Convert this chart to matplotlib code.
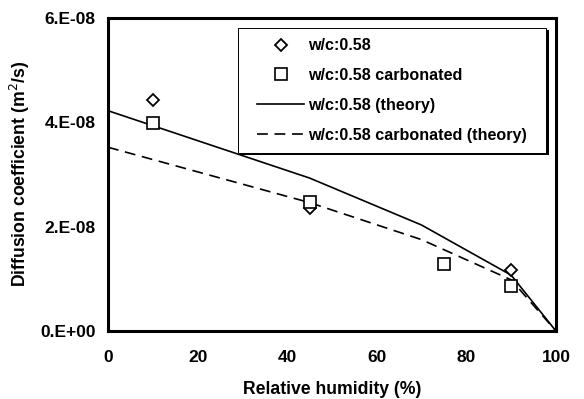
import matplotlib
matplotlib.use("Agg")
import matplotlib.pyplot as plt
from matplotlib.patches import Rectangle
import matplotlib.transforms as mtransforms

plt.rcParams['font.family'] = ['Liberation Sans', 'DejaVu Sans']

# measured data
rh_meas = [10, 45, 90]
d_meas = [4.43e-8, 2.36e-8, 1.17e-8]
rh_carb = [10, 45, 75, 90]
d_carb = [3.99e-8, 2.47e-8, 1.28e-8, 0.86e-8]

# theory curves
rh_theory = [0, 45, 70, 90, 100]
d_theory = [4.22e-8, 2.93e-8, 2.03e-8, 1.07e-8, 0.0]
d_theory_carb = [3.52e-8, 2.46e-8, 1.75e-8, 0.98e-8, 0.0]

xticks = [0, 20, 40, 60, 80, 100]
yticks = [0, 2e-8, 4e-8, 6e-8]
ytick_labels = ['0.E+00', '2.E-08', '4.E-08', '6.E-08']

fig = plt.figure(figsize=(5.84, 3.99), dpi=100)
ax = fig.add_axes([0.185, 0.1704, 0.767, 0.785])

ax.plot(rh_meas, d_meas, linestyle='none', marker='D', ms=6.3, mfc='white',
        mec='black', mew=1.3, label='w/c:0.58', zorder=4)
ax.plot(rh_carb, d_carb, linestyle='none', marker='s', ms=8.2, mfc='white',
        mec='black', mew=1.2, label='w/c:0.58 carbonated', zorder=4)
ax.plot(rh_theory, d_theory, color='black', lw=1.2, label='w/c:0.58 (theory)', zorder=3)
ax.plot(rh_theory, d_theory_carb, color='black', lw=1.2, dashes=(6.5, 4),
        label='w/c:0.58 carbonated (theory)', zorder=3)

ax.set_xlim(0, 100)
ax.set_ylim(0, 6e-8)
ax.set_xticks(xticks)
ax.set_xticklabels([str(t) for t in xticks])
ax.set_yticks(yticks)
ax.set_yticklabels(ytick_labels)
ax.tick_params(axis='both', length=0, labelsize=12.5)
ax.tick_params(axis='x', pad=14)
ax.tick_params(axis='y', pad=9)
for lab in ax.get_xticklabels() + ax.get_yticklabels():
    lab.set_fontweight('bold')
for s in ax.spines.values():
    s.set_linewidth(2.2)

ax.set_xlabel('Relative humidity (%)', fontsize=12.7, fontweight='bold', labelpad=11)
ax.set_ylabel('Diffusion coefficient (m$^2$/s)', fontsize=12.7, fontweight='bold', labelpad=6)

# legend box with Excel-style shadow
bx0, by0, bw, bh = 0.290, 0.569, 0.688, 0.399
shadow_tr = mtransforms.offset_copy(ax.transAxes, fig=fig, x=2.5, y=-2.5, units='dots')
ax.add_patch(Rectangle((bx0, by0), bw, bh, transform=shadow_tr, facecolor='black',
                       edgecolor='none', zorder=5, clip_on=False))
ax.add_patch(Rectangle((bx0, by0), bw, bh, transform=ax.transAxes, facecolor='white',
                       edgecolor='black', lw=0.7, zorder=5.1, clip_on=False))

leg = ax.legend(loc='center', bbox_to_anchor=(0.634, 0.768),
                prop={'size': 11.6, 'weight': 'bold'},
                frameon=False, borderpad=0.2, labelspacing=0.92,
                handlelength=2.9, handletextpad=0.25, borderaxespad=0)
leg.set_zorder(6)

fig.savefig('out.png', dpi=100)
